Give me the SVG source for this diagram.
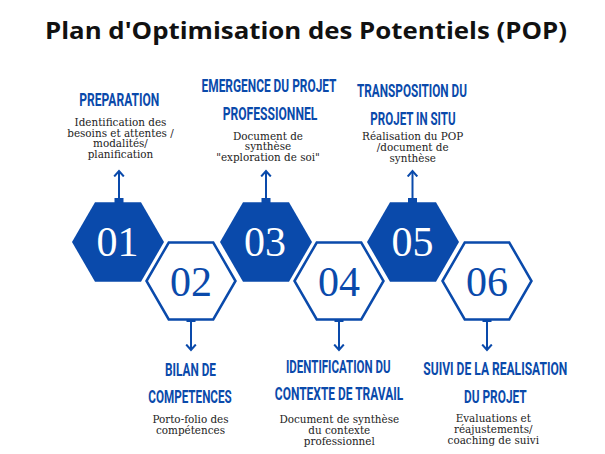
<svg xmlns="http://www.w3.org/2000/svg" width="605" height="454" viewBox="0 0 605 454">
<style>
.title{font-family:"Open Sans","Liberation Sans",sans-serif;font-weight:700;font-size:23.5px;fill:#111;text-anchor:middle}
.hd{font-family:Roboto,"Liberation Sans",sans-serif;font-weight:700;font-size:18px;fill:#0a4aab;text-anchor:middle}
.ds{font-family:"DejaVu Serif","Liberation Serif",serif;font-size:10.4px;fill:#222;text-anchor:middle}
.num{font-family:"Liberation Serif","DejaVu Serif",serif;font-size:42px;text-anchor:middle}
.fill{fill:#0a4aab}
.out{fill:#fff;stroke:#0a4aab;stroke-width:2.5;stroke-linejoin:miter}
.wt{fill:#fff}
.bl{fill:#0a4aab}
.cn{stroke:#0a4aab;stroke-width:2;fill:none}
.sq{fill:#0a4aab}
</style>
<defs>
<marker id="ah" viewBox="-6 -6 8 12" markerWidth="8" markerHeight="12" refX="0" refY="0" orient="auto" markerUnits="userSpaceOnUse">
<path d="M-5.5,-4.8 L0,0 L-5.5,4.8" fill="none" stroke="#0a4aab" stroke-width="2"/>
</marker>
</defs>
<rect width="605" height="454" fill="#fff"/>
<text class="title" x="306" y="39.3" textLength="522" lengthAdjust="spacingAndGlyphs">Plan d'Optimisation des Potentiels (POP)</text>

<g id="connectors">
<rect class="sq" x="114.5" y="198" width="9" height="5"/>
<line class="cn" x1="119" y1="199" x2="119" y2="171" marker-end="url(#ah)"/>
<rect class="sq" x="261.5" y="198" width="9" height="5"/>
<line class="cn" x1="266" y1="199" x2="266" y2="171" marker-end="url(#ah)"/>
<rect class="sq" x="408" y="198" width="9" height="5"/>
<line class="cn" x1="412.5" y1="199" x2="412.5" y2="171" marker-end="url(#ah)"/>
<rect class="sq" x="186.5" y="315" width="9" height="7"/>
<line class="cn" x1="191" y1="321" x2="191" y2="350" marker-end="url(#ah)"/>
<rect class="sq" x="334.5" y="315" width="9" height="7"/>
<line class="cn" x1="339" y1="321" x2="339" y2="350" marker-end="url(#ah)"/>
<rect class="sq" x="482.5" y="315" width="9" height="7"/>
<line class="cn" x1="487" y1="321" x2="487" y2="350" marker-end="url(#ah)"/>
</g>

<g id="node01">
<polygon class="fill" points="72,242 95,202.2 141,202.2 164,242 141,281.8 95,281.8"/>
<text class="num wt" x="117.5" y="256">01</text>
<g transform="translate(119.3,0) scale(0.62,1)"><text class="hd" x="0" y="106" textLength="129" lengthAdjust="spacingAndGlyphs">PREPARATION</text></g>
<text class="ds" x="120.5" y="126">Identification des</text>
<text class="ds" x="120.5" y="136.7">besoins et attentes /</text>
<text class="ds" x="120.5" y="147.3">modalités/</text>
<text class="ds" x="120.5" y="157.8">planification</text>
</g>

<g id="node02">
<polygon class="out" points="146.5,281 168.75,242.5 213.25,242.5 235.5,281 213.25,319.5 168.75,319.5"/>
<text class="num bl" x="191" y="296">02</text>
<g transform="translate(190.5,0) scale(0.62,1)"><text class="hd" x="0" y="376" textLength="82.3" lengthAdjust="spacingAndGlyphs">BILAN DE</text></g>
<g transform="translate(190,0) scale(0.62,1)"><text class="hd" x="0" y="403.3" textLength="134.5" lengthAdjust="spacingAndGlyphs">COMPETENCES</text></g>
<text class="ds" x="190.5" y="422.7">Porto-folio des</text>
<text class="ds" x="190.5" y="433.5">compétences</text>
</g>

<g id="node03">
<polygon class="fill" points="220,242 243,202.2 289,202.2 312,242 289,281.8 243,281.8"/>
<text class="num wt" x="265" y="256">03</text>
<g transform="translate(269,0) scale(0.62,1)"><text class="hd" x="0" y="92.5" textLength="217.7" lengthAdjust="spacingAndGlyphs">EMERGENCE DU PROJET</text></g>
<g transform="translate(270,0) scale(0.62,1)"><text class="hd" x="0" y="120" textLength="152.6" lengthAdjust="spacingAndGlyphs">PROFESSIONNEL</text></g>
<text class="ds" x="268" y="139.5">Document de</text>
<text class="ds" x="268" y="150">synthèse</text>
<text class="ds" x="268" y="160.7">"exploration de soi"</text>
</g>

<g id="node04">
<polygon class="out" points="294.5,281 316.75,242.5 361.25,242.5 383.5,281 361.25,319.5 316.75,319.5"/>
<text class="num bl" x="339" y="296">04</text>
<g transform="translate(338.3,0) scale(0.62,1)"><text class="hd" x="0" y="372.7" textLength="168.9" lengthAdjust="spacingAndGlyphs">IDENTIFICATION DU</text></g>
<g transform="translate(339,0) scale(0.62,1)"><text class="hd" x="0" y="400" textLength="206.9" lengthAdjust="spacingAndGlyphs">CONTEXTE DE TRAVAIL</text></g>
<text class="ds" x="339.3" y="423.3">Document de synthèse</text>
<text class="ds" x="339.3" y="434">du contexte</text>
<text class="ds" x="339.3" y="444.7">professionnel</text>
</g>

<g id="node05">
<polygon class="fill" points="367,242 390,202.2 436,202.2 459,242 436,281.8 390,281.8"/>
<text class="num wt" x="412.5" y="256">05</text>
<g transform="translate(412,0) scale(0.62,1)"><text class="hd" x="0" y="97.3" textLength="177.4" lengthAdjust="spacingAndGlyphs">TRANSPOSITION DU</text></g>
<g transform="translate(413,0) scale(0.62,1)"><text class="hd" x="0" y="125" textLength="137.6" lengthAdjust="spacingAndGlyphs">PROJET IN SITU</text></g>
<text class="ds" x="412.7" y="140">Réalisation du POP</text>
<text class="ds" x="412.7" y="151">/document de</text>
<text class="ds" x="412.7" y="161.7">synthèse</text>
</g>

<g id="node06">
<polygon class="out" points="442.5,281 464.75,242.5 509.25,242.5 531.5,281 509.25,319.5 464.75,319.5"/>
<text class="num bl" x="487" y="296">06</text>
<g transform="translate(495.3,0) scale(0.62,1)"><text class="hd" x="0" y="375" textLength="232.3" lengthAdjust="spacingAndGlyphs">SUIVI DE LA REALISATION</text></g>
<g transform="translate(495.3,0) scale(0.62,1)"><text class="hd" x="0" y="403.3" textLength="101.1" lengthAdjust="spacingAndGlyphs">DU PROJET</text></g>
<text class="ds" x="493.3" y="422.3">Evaluations et</text>
<text class="ds" x="493.3" y="433.3">réajustements/</text>
<text class="ds" x="493.3" y="444">coaching de suivi</text>
</g>
</svg>
